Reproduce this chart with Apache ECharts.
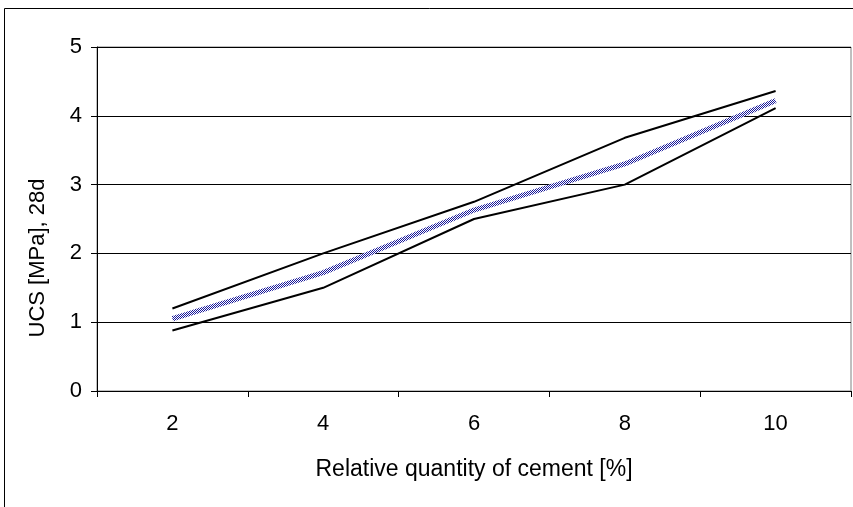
<!DOCTYPE html>
<html><head><meta charset="utf-8">
<script src="https://cdn.jsdelivr.net/npm/echarts@6/dist/echarts.min.js"></script>
<style>html,body{margin:0;padding:0;background:#fff}#c{width:853px;height:507px}</style>
</head><body><div id="c"></div>
<script>
const categories = ['2','4','6','8','10'];
const upper = [1.20, 2.00, 2.75, 3.68, 4.36];
const mean = [1.05, 1.72, 2.63, 3.30, 4.22];
const lower = [0.88, 1.50, 2.50, 3.00, 4.11];
const yTicks = [0,1,2,3,4,5];
const xTitle = 'Relative quantity of cement [%]';
const yTitle = 'UCS [MPa], 28d';

// checker pattern for the hatched blue line
const pc = document.createElement('canvas');
pc.width = 2; pc.height = 2;
const g = pc.getContext('2d');
g.fillStyle = '#ffffff'; g.fillRect(0,0,2,2);
g.fillStyle = '#18189a'; g.fillRect(0,0,1,1); g.fillRect(1,1,1,1);

const chart = echarts.init(document.getElementById('c'), null, {renderer:'canvas'});
const font = 'Liberation Sans, Arial, sans-serif';
chart.setOption({
  animation:false,
  backgroundColor:'#fff',
  graphic:[
    {type:'rect', shape:{x:4.5,y:8.5,width:900,height:600}, style:{fill:'none',stroke:'#000',lineWidth:1}, z:-1},
    {type:'text', x:38, y:258, rotation:Math.PI/2,
      style:{text:yTitle, font:'22px Liberation Sans, Arial, sans-serif', fill:'#000', textAlign:'center', textVerticalAlign:'middle'}}
  ],
  grid:{left:97, right:2, top:47, bottom:116, show:true, borderColor:'#808080', borderWidth:1},
  xAxis:{type:'category', data:categories, boundaryGap:true,
    name:xTitle, nameLocation:'middle', nameGap:67,
    nameTextStyle:{fontFamily:font, fontSize:23, color:'#000'},
    axisLine:{lineStyle:{color:'#000', width:1}},
    axisTick:{show:true, length:6, inside:false, lineStyle:{color:'#000'}},
    axisLabel:{fontFamily:font, fontSize:22, color:'#000', margin:22},
    splitLine:{show:false}},
  yAxis:{type:'value', min:0, max:5, interval:1,
    axisLine:{show:true, lineStyle:{color:'#000', width:1}},
    axisTick:{show:true, length:6, lineStyle:{color:'#000'}},
    axisLabel:{fontFamily:font, fontSize:22, color:'#000', margin:15,
      formatter:v=>yTicks.includes(v)?String(v):''},
    splitLine:{show:true, lineStyle:{color:'#000', width:1}}},
  series:[
    {type:'line', data:upper, symbol:'none', lineStyle:{color:'#000', width:2}, z:3},
    {type:'line', data:lower, symbol:'none', lineStyle:{color:'#000', width:2}, z:3},
    {type:'line', data:mean, symbol:'none', lineStyle:{color:{image:pc, repeat:'repeat'}, width:5}, z:4}
  ]
});
</script></body></html>
